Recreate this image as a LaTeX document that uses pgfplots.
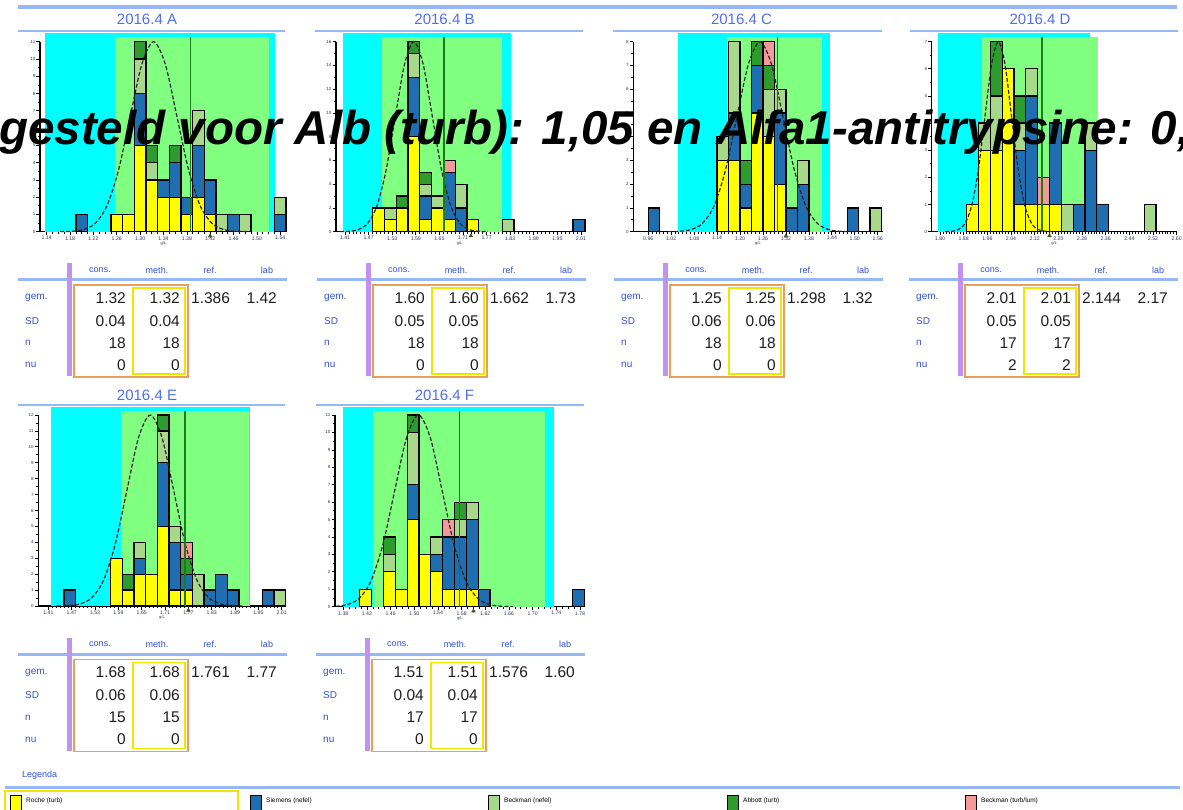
\documentclass[border=0pt]{standalone}
\usepackage{pgfplots}
\pgfplotsset{compat=1.18}
\usepackage{pgfplotstable}
\usepackage{fontspec}
\setmainfont{Liberation Sans}

\definecolor{cyanbg}{RGB}{0,255,255}
\definecolor{greenbg}{RGB}{128,255,128}
\definecolor{cY}{RGB}{255,255,0}
\definecolor{cB}{RGB}{31,111,176}
\definecolor{cL}{RGB}{168,216,138}
\definecolor{cD}{RGB}{45,155,45}
\definecolor{cP}{RGB}{245,152,152}
\definecolor{refc}{RGB}{25,125,25}
\definecolor{lblue}{RGB}{150,185,245}
\definecolor{titc}{RGB}{80,110,240}
\definecolor{labc}{RGB}{50,80,220}
\definecolor{purp}{RGB}{195,145,240}
\definecolor{orbox}{RGB}{230,160,90}
\definecolor{yebox}{RGB}{240,230,0}
\definecolor{tickc}{RGB}{40,50,100}
\definecolor{labmk}{RGB}{80,80,30}
\definecolor{valc}{RGB}{30,30,30}

% ---------- histogram data (bin centre, counts per method) ----------
\pgfplotstableread{
x Y B L D P
1.20 0 1 0 0 0
1.26 1 0 0 0 0
1.28 1 0 0 0 0
1.30 5 3 2 1 0
1.32 3 0 1 1 0
1.34 2 1 0 0 0
1.36 2 2 0 1 0
1.38 1 1 0 0 0
1.40 2 3 2 0 0
1.42 1 2 0 0 0
1.44 0 0 1 0 0
1.46 0 1 0 0 0
1.48 0 0 1 0 0
1.54 0 1 1 0 0
}\tabA
\pgfplotstableread{
x Y B L D P
1.495 2 0 0 0 0
1.525 1 0 1 0 0
1.555 2 0 0 1 0
1.585 8 5 2 1 0
1.615 1 2 1 1 0
1.645 2 0 1 0 0
1.675 1 4 0 0 1
1.705 0 2 2 0 0
1.735 1 0 0 0 0
1.825 0 0 1 0 0
2.005 0 1 0 0 0
}\tabB
\pgfplotstableread{
x Y B L D P
0.975 0 1 0 0 0
1.155 3 0 1 0 0
1.185 3 2 3 0 0
1.215 1 1 0 1 0
1.245 5 2 0 1 0
1.275 4 0 2 1 1
1.305 2 3 1 0 0
1.335 0 1 0 0 0
1.365 0 2 1 0 0
1.495 0 1 0 0 0
1.555 0 0 1 0 0
}\tabC
\pgfplotstableread{
x Y B L D P
1.91 1 0 0 0 0
1.95 3 0 1 0 0
1.99 3 0 2 2 0
2.03 6 0 0 0 0
2.07 1 2 1 1 0
2.11 1 4 1 0 0
2.15 1 0 0 0 1
2.19 1 3 0 0 0
2.23 0 0 1 0 0
2.27 0 1 0 0 0
2.31 0 3 1 0 0
2.35 0 1 0 0 0
2.51 0 0 1 0 0
}\tabD
\pgfplotstableread{
x Y B L D P
1.465 0 1 0 0 0
1.585 3 0 0 0 0
1.615 1 0 0 1 0
1.645 2 1 1 0 0
1.675 2 0 0 0 0
1.705 5 4 2 1 0
1.735 1 3 1 0 0
1.765 1 1 0 1 1
1.795 0 0 2 0 0
1.825 0 1 0 0 0
1.855 0 2 0 0 0
1.885 0 1 0 0 0
1.975 0 1 0 0 0
2.005 0 0 1 0 0
}\tabE
\pgfplotstableread{
x Y B L D P
1.418 1 0 0 0 0
1.458 2 0 1 1 0
1.478 1 0 0 0 0
1.498 5 2 3 1 0
1.518 3 0 0 0 0
1.538 2 1 1 0 0
1.558 1 3 0 0 1
1.578 1 3 1 1 0
1.598 1 4 1 0 0
1.618 0 1 0 0 0
1.778 0 1 0 0 0
}\tabF

% ---------- fitted curves ----------
\pgfplotstableread{
x y
1.163 0.004
1.183 0.024
1.203 0.122
1.223 0.483
1.243 1.489
1.263 3.572
1.283 6.672
1.303 9.708
1.323 11
1.343 9.708
1.363 6.672
1.383 3.572
1.403 1.489
1.423 0.483
1.443 0.122
1.463 0.024
1.483 0.004
}\gA
\pgfplotstableread{
x y
1.397 0.005
1.4205 0.035
1.444 0.178
1.4675 0.702
1.491 2.165
1.5145 5.195
1.538 9.704
1.5615 14.12
1.585 16
1.6085 14.12
1.632 9.704
1.6555 5.195
1.679 2.165
1.7025 0.702
1.726 0.178
1.7495 0.035
1.773 0.005
}\gB
\pgfplotstableread{
x y
1.012 0.003
1.042 0.018
1.072 0.089
1.102 0.351
1.132 1.082
1.162 2.598
1.192 4.852
1.222 7.06
1.252 8
1.282 7.06
1.312 4.852
1.342 2.598
1.372 1.082
1.402 0.351
1.432 0.089
1.462 0.018
1.492 0.003
}\gC
\pgfplotstableread{
x y
1.817 0.002
1.8395 0.015
1.862 0.078
1.8845 0.307
1.907 0.947
1.9295 2.273
1.952 4.246
1.9745 6.178
1.997 7
2.0195 6.178
2.042 4.246
2.0645 2.273
2.087 0.947
2.1095 0.307
2.132 0.078
2.1545 0.015
2.177 0.002
}\gD
\pgfplotstableread{
x y
1.432 0.004
1.462 0.026
1.492 0.133
1.522 0.527
1.552 1.624
1.582 3.896
1.612 7.278
1.642 10.59
1.672 12
1.702 10.59
1.732 7.278
1.762 3.896
1.792 1.624
1.822 0.527
1.852 0.133
1.882 0.026
1.912 0.004
}\gE
\pgfplotstableread{
x y
1.367 0.024
1.387 0.122
1.407 0.483
1.427 1.489
1.447 3.572
1.467 6.672
1.487 9.708
1.507 11
1.527 9.708
1.547 6.672
1.567 3.572
1.587 1.489
1.607 0.483
1.627 0.122
1.647 0.024
1.667 0.004
}\gF

\pgfplotsset{
  hist/.style={
    scale only axis, ymin=0, clip=false,
    axis x line*=bottom, axis y line*=left,
    ybar stacked, reverse stacked plots=false, tick align=outside,
    axis line style={line width=1.3pt},
    major tick length=3.5pt, minor tick length=2pt,
    every tick/.style={black, line width=0.7pt},
    xticklabel style={font=\fontsize{5.2}{5.2}\selectfont, text=tickc, inner sep=1pt,
      /pgf/number format/.cd, fixed, fixed zerofill, precision=2},
    yticklabel style={font=\fontsize{4.5}{4.5}\selectfont, text=tickc, inner sep=1pt},
    /pgf/number format/assume math mode=true,
    xlabel={g/L},
    xlabel style={font=\fontsize{4}{4}\selectfont, text=tickc, inner sep=0.5pt},
  },
  bg/.style={stack plots=false, sharp plot, draw=none, forget plot},
  sY/.style={fill=cY, draw=black, line width=1.25pt},
  sB/.style={fill=cB, draw=black, line width=1.25pt},
  sL/.style={fill=cL, draw=black, line width=1.25pt},
  sD/.style={fill=cD, draw=black, line width=1.25pt},
  sP/.style={fill=cP, draw=black, line width=1.25pt},
  gauss/.style={stack plots=false, smooth, black!85, dash pattern=on 4pt off 2pt,
     line width=1.2pt, forget plot},
  refl/.style={stack plots=false, sharp plot, refc, line width=1.5pt, forget plot},
  labm/.style={stack plots=false, only marks, mark=triangle*, mark size=2.2pt,
     mark options={fill=labmk, draw=labmk}, forget plot},
}

\newcommand\bars[1]{%
  \addplot[sY] table[x=x,y=Y] {#1};
  \addplot[sB] table[x=x,y=B] {#1};
  \addplot[sL] table[x=x,y=L] {#1};
  \addplot[sD] table[x=x,y=D] {#1};
  \addplot[sP] table[x=x,y=P] {#1};
}

\tikzset{
  hdr/.style={inner sep=0, text=labc, font=\fontsize{9}{9}\selectfont},
  rl/.style={inner sep=0, anchor=west, text=labc, font=\fontsize{10}{10}\selectfont},
  val/.style={inner sep=0, text=valc, font=\fontsize{15.5}{15.5}\selectfont},
  ttl/.style={inner sep=0, text=titc, font=\fontsize{15}{15}\selectfont},
  legt/.style={inner sep=0, anchor=west, text=black, font=\fontsize{6.5}{6.5}\selectfont},
}

\newcommand\ptable[8]{%
\begin{scope}[shift={(#1,#2)}]
\draw[lblue, line width=3pt] (18,280) -- (287,280);
\fill[purp] (67,263) rectangle (72,376);
\node[hdr] at (100,270) {cons.};
\node[hdr] at (157,270) {meth.};
\node[hdr] at (210,270) {ref.};
\node[hdr] at (267,270) {lab};
\draw[orbox, line width=1.1pt] (74,285) rectangle (188,377);
\draw[yebox, line width=1.4pt] (133,288) rectangle (185,374);
\node[rl] at (25,298) {gem.};
\node[rl] at (25,321) {SD};
\node[rl] at (25,343) {n};
\node[rl] at (25,365) {nu};
\node[val, anchor=east] at (126,298) {#3};
\node[val, anchor=east] at (180,298) {#3};
\node[val, anchor=west] at (191,298) {#4};
\node[val, anchor=east] at (277,298) {#5};
\node[val, anchor=east] at (126,321) {#6};
\node[val, anchor=east] at (180,321) {#6};
\node[val, anchor=east] at (126,343) {#7};
\node[val, anchor=east] at (180,343) {#7};
\node[val, anchor=east] at (126,365) {#8};
\node[val, anchor=east] at (180,365) {#8};
\end{scope}}

\begin{document}
\begin{tikzpicture}
\useasboundingbox (0pt,0pt) rectangle (1183pt,809pt);

% ---------------- panel A ----------------
\begin{axis}[hist, at={(40pt,577.3pt)}, anchor=south west, width=246.7pt, height=190pt,
  xmin=1.1285, xmax=1.551, ymax=11, bar width=0.02,
  xtick={1.14,1.18,1.22,1.26,1.30,1.34,1.38,1.42,1.46,1.50,1.54}, minor x tick num=3,
  ytick={0,1,2,3,4,5,6,7,8,9,10,11}, minor y tick num=1]
\addplot[bg, fill=cyanbg] coordinates {(1.137,11.5) (1.531,11.5)} \closedcycle;
\addplot[bg, fill=greenbg] coordinates {(1.257,11.27) (1.52,11.27)} \closedcycle;
\bars{\tabA}
\addplot[gauss] table[x=x,y=y] {\gA};
\addplot[refl] coordinates {(1.386,0) (1.386,11.27)};
\addplot[labm] coordinates {(1.42,-0.25)};
\end{axis}

% ---------------- panel B ----------------
\begin{axis}[hist, at={(336pt,577.3pt)}, anchor=south west, width=247.3pt, height=190pt,
  xmin=1.387, xmax=2.016, ymax=16, bar width=0.03,
  xtick={1.41,1.47,1.53,1.59,1.65,1.71,1.77,1.83,1.89,1.95,2.01}, minor x tick num=5,
  ytick={0,2,4,6,8,10,12,14,16}, minor y tick num=1]
\addplot[bg, fill=cyanbg] coordinates {(1.404,16.74) (1.832,16.74)} \closedcycle;
\addplot[bg, fill=greenbg] coordinates {(1.503,16.4) (1.810,16.4)} \closedcycle;
\bars{\tabB}
\addplot[gauss] table[x=x,y=y] {\gB};
\addplot[refl] coordinates {(1.662,0) (1.662,16.4)};
\addplot[labm] coordinates {(1.73,-0.35)};
\end{axis}

% ---------------- panel C ----------------
\begin{axis}[hist, at={(633.3pt,577.3pt)}, anchor=south west, width=249.4pt, height=190pt,
  xmin=0.921, xmax=1.573, ymax=8, bar width=0.03,
  xtick={0.96,1.02,1.08,1.14,1.20,1.26,1.32,1.38,1.44,1.50,1.56}, minor x tick num=5,
  ytick={0,1,2,3,4,5,6,7,8}, minor y tick num=1]
\addplot[bg, fill=cyanbg] coordinates {(1.039,8.37) (1.435,8.37)} \closedcycle;
\addplot[bg, fill=greenbg] coordinates {(1.166,8.2) (1.413,8.2)} \closedcycle;
\bars{\tabC}
\addplot[gauss] table[x=x,y=y] {\gC};
\addplot[refl] coordinates {(1.298,0) (1.298,8.2)};
\addplot[labm] coordinates {(1.32,-0.18)};
\end{axis}

% ---------------- panel D ----------------
\begin{axis}[hist, at={(931.7pt,577.3pt)}, anchor=south west, width=245pt, height=190pt,
  xmin=1.772, xmax=2.60, ymax=7, bar width=0.04,
  xtick={1.80,1.88,1.96,2.04,2.12,2.20,2.28,2.36,2.44,2.52,2.60}, minor x tick num=7,
  ytick={0,1,2,3,4,5,6,7}, minor y tick num=1]
\addplot[bg, fill=cyanbg] coordinates {(1.794,7.32) (2.307,7.32)} \closedcycle;
\addplot[bg, fill=greenbg] coordinates {(1.941,7.17) (2.335,7.17)} \closedcycle;
\bars{\tabD}
\addplot[gauss] table[x=x,y=y] {\gD};
\addplot[refl] coordinates {(2.144,0) (2.144,7.17)};
\addplot[labm] coordinates {(2.17,-0.15)};
\end{axis}

% ---------------- panel E ----------------
\begin{axis}[hist, at={(38.3pt,203pt)}, anchor=south west, width=247.3pt, height=191pt,
  xmin=1.384, xmax=2.02, ymax=12, bar width=0.03,
  xtick={1.41,1.47,1.53,1.59,1.65,1.71,1.77,1.83,1.89,1.95,2.01}, minor x tick num=5,
  ytick={0,1,2,3,4,5,6,7,8,9,10,11,12}, minor y tick num=1]
\addplot[bg, fill=cyanbg] coordinates {(1.417,12.5) (1.929,12.5)} \closedcycle;
\addplot[bg, fill=greenbg] coordinates {(1.596,12.26) (1.926,12.26)} \closedcycle;
\bars{\tabE}
\addplot[gauss] table[x=x,y=y] {\gE};
\addplot[refl] coordinates {(1.761,0) (1.761,12.26)};
\addplot[labm] coordinates {(1.77,-0.27)};
\end{axis}

% ---------------- panel F ----------------
\begin{axis}[hist, at={(335pt,202.3pt)}, anchor=south west, width=249.7pt, height=191.7pt,
  xmin=1.366, xmax=1.788, ymax=11, bar width=0.02,
  xtick={1.38,1.42,1.46,1.50,1.54,1.58,1.62,1.66,1.70,1.74,1.78}, minor x tick num=3,
  ytick={0,1,2,3,4,5,6,7,8,9,10,11}, minor y tick num=1]
\addplot[bg, fill=cyanbg] coordinates {(1.379,11.45) (1.736,11.45)} \closedcycle;
\addplot[bg, fill=greenbg] coordinates {(1.43,11.25) (1.721,11.25)} \closedcycle;
\bars{\tabF}
\addplot[gauss] table[x=x,y=y] {\gF};
\addplot[refl] coordinates {(1.576,0) (1.576,11.25)};
\addplot[labm] coordinates {(1.60,-0.25)};
\end{axis}

% ---------------- decorations, tables, legend (y measured downward) ----------------
\begin{scope}[x=1pt, y=-1pt, shift={(0pt,809pt)}]
\draw[lblue, line width=3.5pt] (18,7) -- (1177,7);
% titles row 1
\draw[lblue, line width=1.3pt] (18,31) -- (285,31);
\draw[lblue, line width=1.3pt] (315,31) -- (583,31);
\draw[lblue, line width=1.3pt] (613,31) -- (882,31);
\draw[lblue, line width=1.3pt] (910,31) -- (1178,31);
\node[ttl, anchor=base] at (147,24.5) {2016.4 A};
\node[ttl, anchor=base] at (444.5,24.5) {2016.4 B};
\node[ttl, anchor=base] at (741.5,24.5) {2016.4 C};
\node[ttl, anchor=base] at (1040,24.5) {2016.4 D};
% titles row 2
\draw[lblue, line width=1.3pt] (18,405) -- (285,405);
\draw[lblue, line width=1.3pt] (316,405) -- (584,405);
\node[ttl, anchor=base] at (147,400.5) {2016.4 E};
\node[ttl, anchor=base] at (444.5,400.5) {2016.4 F};
% tables
\ptable{0}{0}{1.32}{1.386}{1.42}{0.04}{18}{0}
\ptable{299}{0}{1.60}{1.662}{1.73}{0.05}{18}{0}
\ptable{596}{0}{1.25}{1.298}{1.32}{0.06}{18}{0}
\ptable{891}{0}{2.01}{2.144}{2.17}{0.05}{17}{2}
\ptable{0}{374.5}{1.68}{1.761}{1.77}{0.06}{15}{0}
\ptable{298}{374.5}{1.51}{1.576}{1.60}{0.04}{17}{0}
% legend
\node[inner sep=0, anchor=west, text=labc, font=\fontsize{9}{9}\selectfont] at (22,775) {Legenda};
\draw[lblue, line width=3pt] (5,787) -- (1180,787);
\draw[yebox, line width=1.5pt] (5,791) rectangle (238,812);
\filldraw[fill=cY, draw=black, line width=1pt] (10,795) rectangle (21,810);
\node[legt] at (26,801) {Roche (turb)};
\filldraw[fill=cB, draw=black, line width=1pt] (250,795) rectangle (261,810);
\node[legt] at (266,801) {Siemens (nefel)};
\filldraw[fill=cL, draw=black, line width=1pt] (488,795) rectangle (499,810);
\node[legt] at (504,801) {Beckman (nefel)};
\filldraw[fill=cD, draw=black, line width=1pt] (727,795) rectangle (738,810);
\node[legt] at (743,801) {Abbott (turb)};
\filldraw[fill=cP, draw=black, line width=1pt] (965,795) rectangle (976,810);
\node[legt] at (981,801) {Beckman (turb/lum)};
% overlay banner
\node[inner sep=0, anchor=base west, text=black,
  font=\fontsize{47.5}{47.5}\selectfont\bfseries\itshape] at (-1,145)
  {gesteld voor Alb (turb): 1,05 en Alfa1-antitrypsine: 0,};
\end{scope}
\end{tikzpicture}
\end{document}
